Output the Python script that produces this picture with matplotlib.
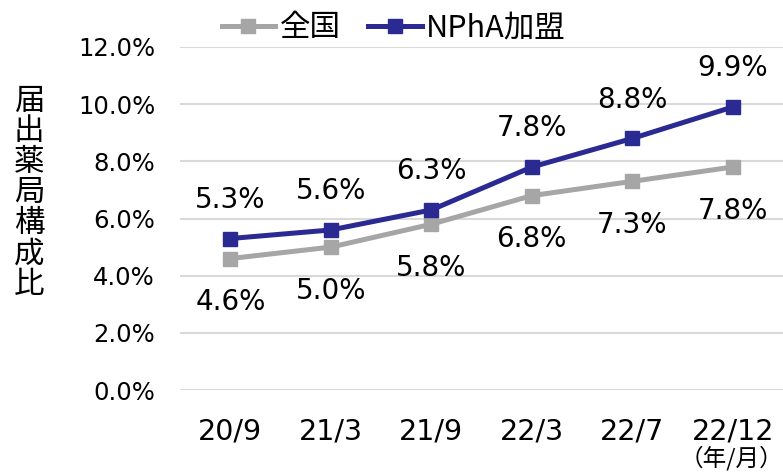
import matplotlib
matplotlib.use("Agg")
import matplotlib.pyplot as plt
from matplotlib.ticker import FuncFormatter

plt.rcParams['font.family'] = ['DejaVu Sans', 'Noto Sans CJK JP']

categories = ["20/9", "21/3", "21/9", "22/3", "22/7", "22/12"]
national = [4.6, 5.0, 5.8, 6.8, 7.3, 7.8]
npha = [5.3, 5.6, 6.3, 7.8, 8.8, 9.9]
yticks = [0, 2, 4, 6, 8, 10, 12]

gray = "#A6A6A6"
navy = "#2A2A92"

fig = plt.figure(figsize=(7.83, 4.74), dpi=100)
ax = fig.add_axes([0.23, 0.177, 0.77, 0.724])

x = list(range(len(categories)))
ax.plot(x, national, color=gray, lw=3.6, marker='s', ms=10, label="全国", zorder=3)
ax.plot(x, npha, color=navy, lw=3.6, marker='s', ms=10, label="NPhA加盟", zorder=4)

for xi, v in zip(x, npha):
    ax.annotate(f"{v:.1f}%", (xi, v), xytext=(0, 28), textcoords='offset points',
                ha='center', va='center', fontsize=20, color='#000000')
for xi, v in zip(x, national):
    ax.annotate(f"{v:.1f}%", (xi, v), xytext=(0, -31.5), textcoords='offset points',
                ha='center', va='center', fontsize=20, color='#000000')

ax.set_xlim(-0.5, len(categories) - 0.5)
ax.set_ylim(0, 12)
ax.set_yticks(yticks)
ax.yaxis.set_major_formatter(FuncFormatter(lambda v, p: f"{v:.1f}%"))
ax.set_xticks(x)
ax.set_xticklabels(categories, fontsize=20.5)
ax.tick_params(axis='y', labelsize=17.5, length=0, pad=18)
ax.tick_params(axis='x', length=0, pad=20)
ax.grid(axis='y', color='#D9D9D9', lw=1.5)
ax.set_axisbelow(True)
for s in ax.spines.values():
    s.set_visible(False)

fig.text(0.934, 0.034, "（年/月）", ha='center', va='center', fontsize=17,
         family=['Noto Sans CJK JP'])

fig.text(0.037, 0.593, "\n".join("届出薬局構成比"), ha='center', va='center',
         fontsize=22, family=['Noto Sans CJK JP'], linespacing=0.98)

leg = fig.legend(loc='center', bbox_to_anchor=(0.503, 0.941), ncol=2, frameon=False,
                 handlelength=1.75, handletextpad=0.15, columnspacing=0.9,
                 prop={'family': ['Noto Sans CJK JP'], 'size': 22})

fig.savefig("out.png", dpi=100)
